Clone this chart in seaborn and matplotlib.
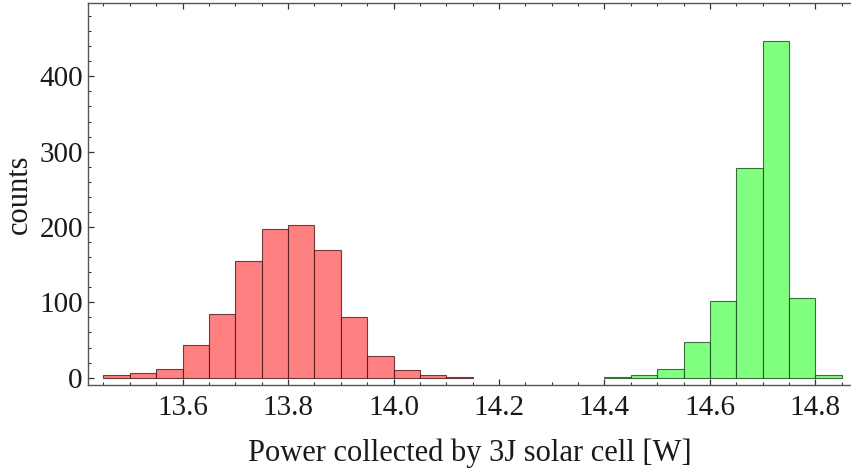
import numpy as np
import pandas as pd
import matplotlib
matplotlib.use("Agg")
import matplotlib.pyplot as plt
import seaborn as sns
from matplotlib.ticker import MultipleLocator, FormatStrFormatter

# Binned simulation results: left edges of 0.05 W bins and counts per bin
red_bin_left = [13.45, 13.50, 13.55, 13.60, 13.65, 13.70, 13.75,
                13.80, 13.85, 13.90, 13.95, 14.00, 14.05, 14.10]
red_counts = [3, 6, 11, 44, 84, 155, 198, 203, 170, 80, 29, 10, 3, 1]

green_bin_left = [14.40, 14.45, 14.50, 14.55, 14.60, 14.65, 14.70, 14.75, 14.80]
green_counts = [1, 3, 12, 48, 102, 278, 447, 106, 3]

bin_width = 0.05
x_label = "Power collected by 3J solar cell [W]"
y_label = "counts"

sns.set_theme(style="white")
plt.rcParams["font.family"] = ["Liberation Serif", "DejaVu Serif"]

fig = plt.figure(figsize=(8.51, 4.76), dpi=100)
ax = fig.add_axes([0.1038, 0.1912, 0.8962, 0.8031])

def draw(bin_left, counts, fill, edge):
    left = np.array(bin_left)
    df = pd.DataFrame({"x": left + bin_width / 2, "n": counts})
    sns.histplot(data=df, x="x", weights="n", binwidth=bin_width,
                 binrange=(left[0], left[-1] + bin_width), ax=ax,
                 color=fill, alpha=1.0, edgecolor=edge, linewidth=0.8)

draw(red_bin_left, red_counts, "#ff8080", (0.25, 0.05, 0.05, 0.75))
draw(green_bin_left, green_counts, "#80ff80", (0.05, 0.25, 0.05, 0.75))

ax.set_xlim(13.4213, 14.8675)
ax.set_ylim(-9.7, 497.7)

ax.xaxis.set_major_locator(MultipleLocator(0.2))
ax.xaxis.set_minor_locator(MultipleLocator(0.05))
ax.yaxis.set_major_locator(MultipleLocator(100))
ax.yaxis.set_minor_locator(MultipleLocator(20))
ax.xaxis.set_major_formatter(FormatStrFormatter("%.1f"))

ax.tick_params(axis="both", which="both", direction="in", colors="#333333",
               labelcolor="#1a1a1a", labelsize=21, top=True, bottom=True,
               left=True, right=False)
ax.tick_params(axis="both", which="major", length=4, width=0.9)
ax.tick_params(axis="both", which="minor", length=2.3, width=0.8)
ax.tick_params(axis="x", which="major", pad=7)
ax.tick_params(axis="y", which="major", pad=4)

for side in ["left", "bottom", "top"]:
    ax.spines[side].set_color("#555555")
    ax.spines[side].set_linewidth(1.0)
ax.spines["right"].set_visible(False)

ax.set_xlabel(x_label, fontsize=22, color="#1a1a1a", labelpad=13)
ax.set_ylabel(y_label, fontsize=22, color="#1a1a1a", labelpad=4)
ax.grid(False)

fig.savefig("out.png", dpi=100)
